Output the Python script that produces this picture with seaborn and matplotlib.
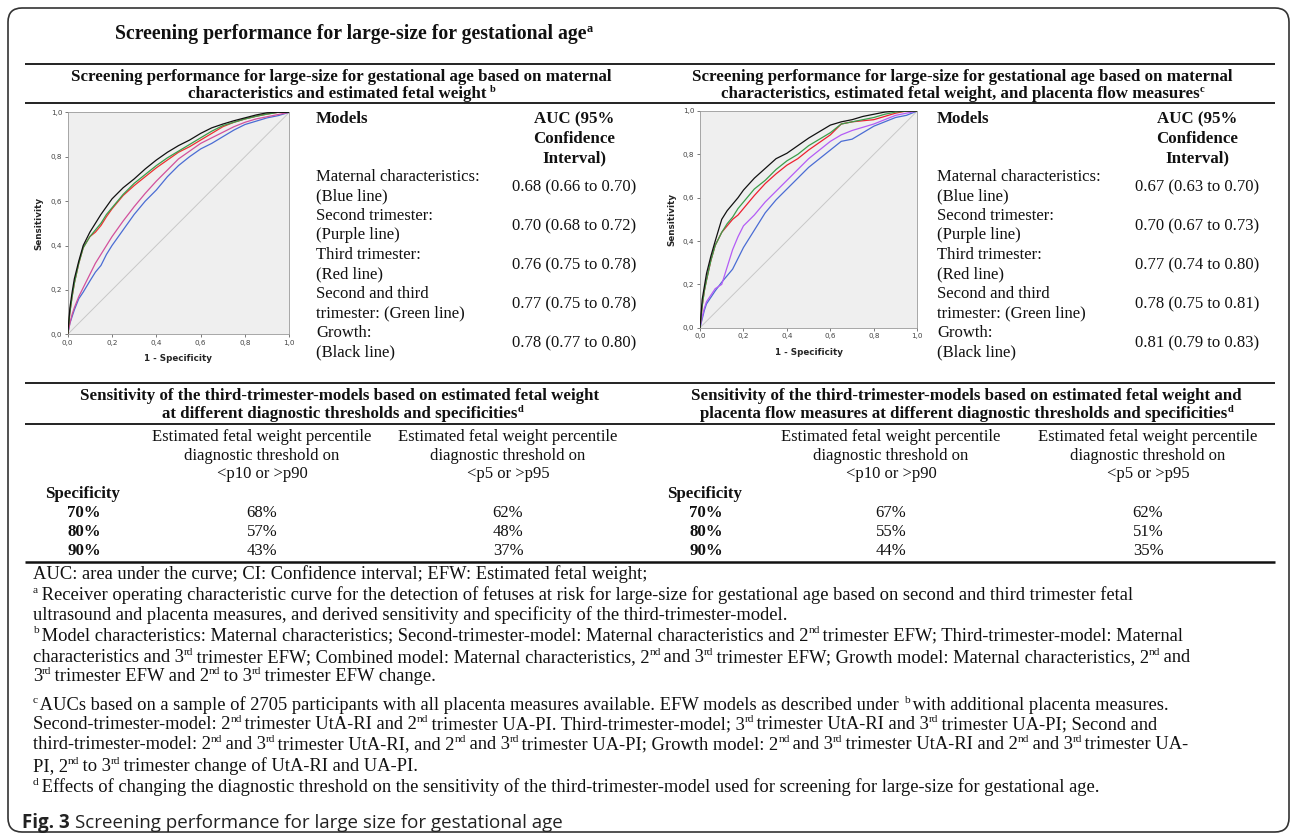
import re
import matplotlib
matplotlib.use("Agg")
import matplotlib.pyplot as plt
from matplotlib.patches import FancyBboxPatch
from matplotlib.ticker import FuncFormatter
import pandas as pd
import seaborn as sns

# ---------------- data ----------------
fpr = [0, .01, .02, .03, .05, .07, .10, .125, .15, .175, .20, .25, .30, .35,
       .40, .45, .50, .55, .60, .65, .70, .75, .80, .85, .90, .95, 1.0]

models = ["Maternal characteristics", "Second trimester", "Third trimester",
          "Second and third trimester", "Growth"]

# ROC curves, EFW models
efw_blue = [0, .05, .08, .11, .16, .19, .24, .28, .31, .36, .40, .47, .54, .60,
            .65, .71, .76, .80, .835, .86, .89, .92, .945, .96, .975, .985, 1]
efw_purple = [0, .05, .09, .12, .17, .21, .27, .32, .36, .40, .44, .51, .575, .635,
              .69, .74, .79, .825, .86, .885, .91, .935, .955, .97, .98, .99, 1]
efw_red = [0, .10, .17, .23, .32, .39, .44, .46, .49, .53, .565, .625, .67, .71,
           .75, .785, .82, .845, .875, .905, .935, .955, .97, .982, .992, 1, 1]
efw_green = [0, .10, .17, .23, .32, .39, .44, .47, .50, .54, .57, .63, .68, .72,
             .76, .795, .825, .855, .885, .915, .94, .955, .97, .982, .992, 1, 1]
efw_black = [0, .12, .19, .25, .33, .40, .46, .50, .54, .575, .61, .66, .70, .745,
             .785, .82, .85, .875, .905, .93, .947, .962, .975, .988, .998, 1, 1]

# ROC curves, EFW + placenta flow models
pl_blue = [0, .04, .08, .11, .14, .17, .21, .24, .27, .32, .37, .45, .53, .59,
           .64, .69, .74, .78, .82, .86, .87, .90, .93, .95, .97, .98, 1]
pl_purple = [0, .05, .09, .12, .15, .18, .20, .28, .36, .42, .47, .52, .58, .63,
             .68, .73, .78, .82, .86, .89, .91, .925, .94, .96, .98, .99, 1]
pl_red = [0, .10, .17, .22, .31, .38, .44, .47, .50, .52, .55, .61, .665, .71,
          .75, .78, .82, .855, .89, .94, .95, .955, .96, .975, .99, 1, 1]
pl_green = [0, .10, .17, .22, .31, .38, .44, .48, .51, .55, .58, .64, .68, .73,
            .77, .80, .84, .87, .90, .94, .95, .96, .97, .985, .995, 1, 1]
pl_black = [0, .13, .19, .25, .33, .40, .50, .54, .57, .60, .635, .69, .735, .78,
            .805, .84, .875, .905, .935, .95, .96, .975, .985, .995, 1, 1, 1]

auc_efw = ["0.68 (0.66 to 0.70)", "0.70 (0.68 to 0.72)", "0.76 (0.75 to 0.78)",
           "0.77 (0.75 to 0.78)", "0.78 (0.77 to 0.80)"]
auc_pl = ["0.67 (0.63 to 0.70)", "0.70 (0.67 to 0.73)", "0.77 (0.74 to 0.80)",
          "0.78 (0.75 to 0.81)", "0.81 (0.79 to 0.83)"]
model_lines = [("Maternal characteristics:", "(Blue line)"),
               ("Second trimester:", "(Purple line)"),
               ("Third trimester:", "(Red line)"),
               ("Second and third", "trimester: (Green line)"),
               ("Growth:", "(Black line)")]

specificity = ["70%", "80%", "90%"]
sens_efw_p10 = ["68%", "57%", "43%"]
sens_efw_p5 = ["62%", "48%", "37%"]
sens_pl_p10 = ["67%", "55%", "44%"]
sens_pl_p5 = ["62%", "51%", "35%"]

# ---------------- style ----------------
sns.set_style("white")
plt.rcParams["font.family"] = ["Liberation Serif", "DejaVu Serif"]

W, H = 1292, 839
fig = plt.figure(figsize=(W / 100, H / 100), dpi=100)
base = fig.add_axes([0, 0, 1, 1])
base.set_xlim(0, W)
base.set_ylim(H, 0)
base.axis("off")
renderer = fig.canvas.get_renderer()

INK = "#111111"
FS = 12.0      # table text
FSB = 12.2     # bold subtitles
FSN = 13.3     # footnotes


def T(x, y, s, size=FS, weight="normal", ha="left", **kw):
    return base.text(x, y, s, fontsize=size, fontweight=weight, ha=ha,
                     va="baseline", color=INK, **kw)


def rich(x, y, s, size=FS, weight="normal", ha="left"):
    """Text with superscripts written as ^{...}, laid out piece by piece."""
    parts = re.split(r"\^\{([^}]*)\}", s)
    pieces = []
    for i, p in enumerate(parts):
        if not p:
            continue
        is_sup = i % 2 == 1
        fs = size * 0.62 if is_sup else size
        dy = size * 0.38 * 100 / 72 if is_sup else 0
        t = T(0, y - dy, p, size=fs, weight=weight)
        w = t.get_window_extent(renderer).width
        if is_sup:
            w -= 1.6   # extent of small glyph runs is padded; tighten spacing
        pieces.append((t, w))
    total = sum(w for _, w in pieces)
    x0 = x - total / 2 if ha == "center" else x
    for t, w in pieces:
        t.set_x(x0)
        x0 += w


def rule(y, x0=25, x1=1275, lw=1.3):
    base.plot([x0, x1], [y, y], color=INK, lw=lw, solid_capstyle="butt")


# frame
frame = FancyBboxPatch((8, 8), 1281, 824, boxstyle="round,pad=0,rounding_size=14",
                       fc="none", ec="#333333", lw=1.2)
base.add_patch(frame)

# main title
rich(115, 39, "Screening performance for large-size for gestational age^{a}",
     size=14.2, weight="bold")

# ---------- upper block ----------
rule(64)
rule(103)
rich(341, 81, "Screening performance for large-size for gestational age based on maternal",
     size=FSB, weight="bold", ha="center")
rich(341, 98, "characteristics and estimated fetal weight ^{b}",
     size=FSB, weight="bold", ha="center")
rich(962, 81, "Screening performance for large-size for gestational age based on maternal",
     size=FSB, weight="bold", ha="center")
rich(962, 98, "characteristics, estimated fetal weight, and placenta flow measures^{c}",
     size=FSB, weight="bold", ha="center")

for (xm, xa, aucs) in [(316, 574, auc_efw), (937, 1197, auc_pl)]:
    T(xm, 123, "Models", size=FSB, weight="bold")
    T(xa, 123, "AUC (95%", size=FSB, weight="bold", ha="center")
    T(xa, 143, "Confidence", size=FSB, weight="bold", ha="center")
    T(xa, 162, "Interval)", size=FSB, weight="bold", ha="center")
    for i, ((l1, l2), a) in enumerate(zip(model_lines, aucs)):
        y0 = 181 + i * 39
        T(xm, y0, l1, size=FS)
        T(xm, y0 + 19, l2, size=FS)
        T(xa, y0 + 10, a, size=FS, ha="center")

# ---------- ROC panels ----------
palette_efw = ["#4a6cd4", "#d2509c", "#ee3030", "#3a9e4a", "#111111"]
palette_pl = ["#4a6cd4", "#b45cf6", "#ee2030", "#3a9e4a", "#111111"]


def roc_panel(rect_px, curves, palette):
    x0, y0, x1, y1 = rect_px
    ax = fig.add_axes([x0 / W, 1 - y1 / H, (x1 - x0) / W, (y1 - y0) / H])
    df = pd.concat([pd.DataFrame({"fpr": fpr, "tpr": c, "model": m})
                    for m, c in zip(models, curves)], ignore_index=True)
    ax.set_facecolor("#efefef")
    ax.plot([0, 1], [0, 1], color="#c8c8c8", lw=0.7, zorder=1)
    sns.lineplot(data=df, x="fpr", y="tpr", hue="model", hue_order=models,
                 palette=palette, estimator=None, sort=False, legend=False,
                 lw=0.9, ax=ax, zorder=3)
    ax.set_xlim(0, 1)
    ax.set_ylim(0, 1)
    ticks = [0, .2, .4, .6, .8, 1.0]
    ax.set_xticks(ticks)
    ax.set_yticks(ticks)
    fmt = FuncFormatter(lambda v, p: f"{v:.1f}".replace(".", ","))
    ax.xaxis.set_major_formatter(fmt)
    ax.yaxis.set_major_formatter(fmt)
    ax.tick_params(axis="both", labelsize=5.2, colors="#444444", length=2.5,
                   width=0.5, pad=1.5, direction="out")
    ax.tick_params(axis="x", bottom=True)
    ax.tick_params(axis="y", left=True)
    for lbl in ax.get_xticklabels() + ax.get_yticklabels():
        lbl.set_fontfamily("DejaVu Sans")
    for s in ax.spines.values():
        s.set_color("#999999")
        s.set_linewidth(0.6)
    ax.set_xlabel("1 - Specificity", fontsize=6.3, fontweight="bold",
                  fontfamily="DejaVu Sans", labelpad=6)
    ax.set_ylabel("Sensitivity", fontsize=6.3, fontweight="bold",
                  fontfamily="DejaVu Sans", labelpad=5)
    return ax


roc_panel((67.7, 112.3, 289.3, 334.3),
          [efw_blue, efw_purple, efw_red, efw_green, efw_black], palette_efw)
roc_panel((700, 111, 917.3, 327.7),
          [pl_blue, pl_purple, pl_red, pl_green, pl_black], palette_pl)

# ---------- lower block ----------
rule(383)
rule(424)
rich(340, 400, "Sensitivity of the third-trimester-models based on estimated fetal weight",
     size=FSB, weight="bold", ha="center")
rich(342, 418, "at different diagnostic thresholds and specificities^{d}",
     size=FSB, weight="bold", ha="center")
rich(966, 400, "Sensitivity of the third-trimester-models based on estimated fetal weight and",
     size=FSB, weight="bold", ha="center")
rich(966, 418, "placenta flow measures at different diagnostic thresholds and specificities^{d}",
     size=FSB, weight="bold", ha="center")

header_p10 = ["Estimated fetal weight percentile", "diagnostic threshold on", "<p10 or >p90"]
header_p5 = ["Estimated fetal weight percentile", "diagnostic threshold on", "<p5 or >p95"]

for (xs, xc1, xc2, v1, v2) in [(45, 262, 508, sens_efw_p10, sens_efw_p5),
                               (667, 891, 1148, sens_pl_p10, sens_pl_p5)]:
    for k in range(3):
        T(xc1, 441 + k * 18.5, header_p10[k], ha="center")
        T(xc2, 441 + k * 18.5, header_p5[k], ha="center")
    T(xs, 498, "Specificity", size=FSB, weight="bold")
    for k, sp in enumerate(specificity):
        yy = 517 + k * 19
        T(xs + 22, yy, sp, size=FSB, weight="bold")
        T(xc1, yy, v1[k], ha="center")
        T(xc2, yy, v2[k], ha="center")

rule(562, lw=1.8)

# ---------- footnotes ----------
notes = [
    "AUC: area under the curve; CI: Confidence interval; EFW: Estimated fetal weight;",
    "^{a} Receiver operating characteristic curve for the detection of fetuses at risk for large-size for gestational age based on second and third trimester fetal",
    "ultrasound and placenta measures, and derived sensitivity and specificity of the third-trimester-model.",
    "^{b} Model characteristics: Maternal characteristics; Second-trimester-model: Maternal characteristics and 2^{nd} trimester EFW; Third-trimester-model: Maternal",
    "characteristics and 3^{rd} trimester EFW; Combined model: Maternal characteristics, 2^{nd} and 3^{rd} trimester EFW; Growth model: Maternal characteristics, 2^{nd} and",
    "3^{rd} trimester EFW and 2^{nd} to 3^{rd} trimester EFW change.",
    "^{c} AUCs based on a sample of 2705 participants with all placenta measures available. EFW models as described under ^{b} with additional placenta measures.",
    "Second-trimester-model: 2^{nd} trimester UtA-RI and 2^{nd} trimester UA-PI. Third-trimester-model; 3^{rd} trimester UtA-RI and 3^{rd} trimester UA-PI; Second and",
    "third-trimester-model: 2^{nd} and 3^{rd} trimester UtA-RI, and 2^{nd} and 3^{rd} trimester UA-PI; Growth model: 2^{nd} and 3^{rd} trimester UtA-RI and 2^{nd} and 3^{rd} trimester UA-",
    "PI, 2^{nd} to 3^{rd} trimester change of UtA-RI and UA-PI.",
    "^{d} Effects of changing the diagnostic threshold on the sensitivity of the third-trimester-model used for screening for large-size for gestational age.",
]
note_y = [579, 600, 620, 640, 662, 681, 710, 729, 749, 771, 792]
for s, y in zip(notes, note_y):
    rich(33, y, s, size=FSN)

# ---------- caption ----------
cap_fs = 13.5
t1 = base.text(22, 828, "Fig. 3", fontsize=cap_fs, fontweight="bold",
               fontfamily="Open Sans", color="#222222", va="baseline", ha="left")
x_end = t1.get_window_extent(renderer).x1
base.text(x_end + 5, 828, "Screening performance for large size for gestational age",
          fontsize=cap_fs, fontfamily="Open Sans", color="#222222",
          va="baseline", ha="left")

fig.savefig("out.png", dpi=100)
